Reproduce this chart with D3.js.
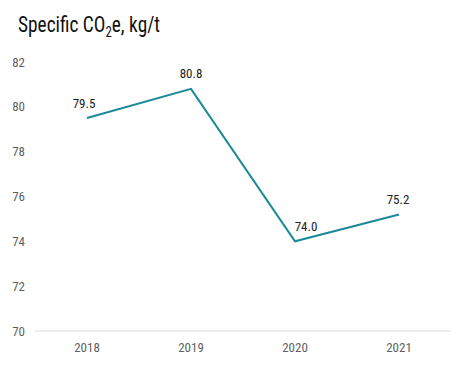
<!DOCTYPE html>
<html><head><meta charset="utf-8">
<script src="https://cdn.jsdelivr.net/npm/d3@7"></script>
<style>body{margin:0;background:#fff}svg{display:block}</style>
</head><body><svg id="c" width="456" height="377"></svg>
<script>
const years = ["2018","2019","2020","2021"];
const values = [79.5, 80.8, 74.0, 75.2];
const yTicks = [70,72,74,76,78,80,82];
const labels = ["79.5","80.8","74.0","75.2"];
const labelDx = [-3, 0, 11, -1];

const svg = d3.select("#c");
const font = "'Liberation Sans Narrow','Roboto Condensed','Liberation Sans',sans-serif";
const x = d3.scaleBand().domain(years).range([35,451]);
const y = d3.scaleLinear().domain([70,82]).range([331,62]);

const t = svg.append("text").attr("transform","translate(18,32) scale(0.86,1)")
  .attr("font-family",font).attr("font-size",22.5).attr("fill","#111");
t.append("tspan").text("Specific CO");
t.append("tspan").text("2").attr("font-size",15).attr("dy",5);
t.append("tspan").text("e, kg/t").attr("dy",-5);

svg.append("line").attr("x1",35).attr("x2",451).attr("y1",y(70)).attr("y2",y(70)).attr("stroke","#d9d9d9").attr("stroke-width",1);

svg.append("g").selectAll("text").data(yTicks).join("text")
  .attr("x",25).attr("y",d=>y(d)+4.5).attr("text-anchor","end")
  .attr("font-family",font).attr("font-size",13).attr("fill","#5f5f5f").text(d=>d);

svg.append("g").selectAll("text").data(years).join("text")
  .attr("x",d=>x(d)+x.bandwidth()/2).attr("y",352).attr("text-anchor","middle")
  .attr("font-family",font).attr("font-size",13).attr("fill","#5f5f5f").text(d=>d);

const line = d3.line().x((d,i)=>x(years[i])+x.bandwidth()/2).y(d=>y(d));
svg.append("path").datum(values).attr("d",line).attr("fill","none").attr("stroke","#1b8a98").attr("stroke-width",2);

svg.append("g").selectAll("text").data(values).join("text")
  .attr("x",(d,i)=>x(years[i])+x.bandwidth()/2+labelDx[i]).attr("y",d=>y(d)-10.5).attr("text-anchor","middle")
  .attr("font-family",font).attr("font-size",13).attr("fill","#222").text((d,i)=>labels[i]);
</script></body></html>
